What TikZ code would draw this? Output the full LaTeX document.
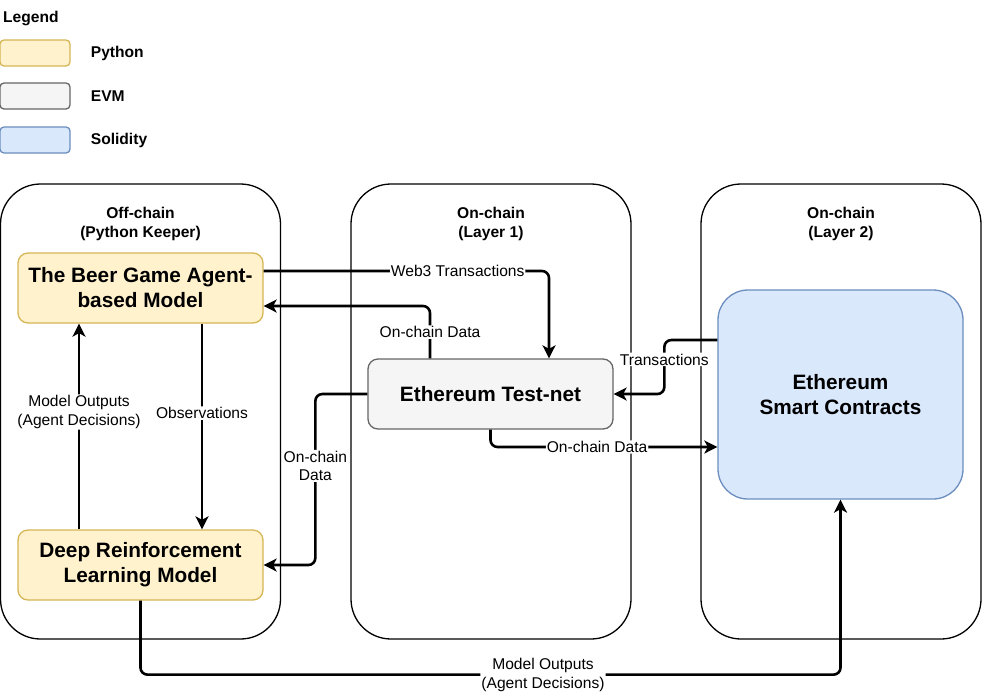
\documentclass[tikz,border=0pt]{standalone}
\usepackage{fontspec}
\setmainfont{Liberation Sans}
\usepackage{xcolor}
\usetikzlibrary{arrows.meta}
\usetikzlibrary{positioning}
\definecolor{pyfill}{HTML}{FFF2CC}
\definecolor{pyline}{HTML}{D6B656}
\definecolor{evmfill}{HTML}{F5F5F5}
\definecolor{evmline}{HTML}{666666}
\definecolor{solfill}{HTML}{DAE8FC}
\definecolor{solline}{HTML}{6C8EBF}

\begin{document}
\begin{tikzpicture}[x=1pt, y=-1pt,
  key/.style={draw, line width=1.3pt, rounded corners=4pt, minimum width=70pt, minimum height=26pt, inner sep=0pt},
  keylbl/.style={font=\fontsize{15.6}{18.7}\selectfont\bfseries, inner sep=0pt},
  container/.style={draw, line width=1.3pt, rounded corners=40pt, minimum width=280pt, minimum height=455pt},
  title/.style={font=\fontsize{15.6}{18.7}\selectfont\bfseries, align=center, inner sep=0pt},
  block/.style={draw, line width=1.3pt, rounded corners=10pt, minimum width=245pt, minimum height=70pt, align=center, font=\fontsize{20.8}{25}\selectfont\bfseries},
  conn/.style={line width=2.6pt, rounded corners=7pt, -{Stealth[length=13pt, width=13pt, inset=3.5pt]}},
  lbl/.style={fill=white, inner sep=1pt, align=center, font=\fontsize{15.6}{18.7}\selectfont}]
  \useasboundingbox (0,0) rectangle (982,694);
  \node[keylbl, anchor=base west] (legend) at (3,22) {Legend};
  \node[key, fill=pyfill, draw=pyline] (pykey) at (35,53) {};
  \node[key, fill=evmfill, draw=evmline] (evmkey) at (35,96) {};
  \node[key, fill=solfill, draw=solline] (solkey) at (35,140) {};
  \node[keylbl, right=20pt of pykey] {Python};
  \node[keylbl, right=20pt of evmkey] {EVM};
  \node[keylbl, right=20pt of solkey] {Solidity};

  \node[container] (offchain) at (140.5,411.5) {};
  \node[container] (layerone) at (491,411.5) {};
  \node[container] (layertwo) at (841,411.5) {};
  \node[title] at ([yshift=-40.5]offchain.north) {Off-chain\\(Python Keeper)};
  \node[title] at ([yshift=-40.5]layerone.north) {On-chain\\(Layer 1)};
  \node[title] at ([yshift=-40.5]layertwo.north) {On-chain\\(Layer 2)};

  \node[block, fill=pyfill, draw=pyline] (beer) at (140.5,288) {The Beer Game Agent-\\based Model};
  \node[block, fill=pyfill, draw=pyline] (drl) at (140.5,565) {Deep Reinforcement\\Learning Model};
  \node[block, fill=evmfill, draw=evmline] (testnet) at (490.5,394) {Ethereum Test-net};
  \node[block, fill=solfill, draw=solline, minimum height=209pt, rounded corners=30pt] (contracts) at (840.5,394.5) {Ethereum\\Smart Contracts};

  \draw[conn] ([yshift=17]beer.east) -| node[lbl, pos=0.34]{Web3 Transactions} ([xshift=58.5]testnet.north);
  \draw[conn] ([xshift=-60.5]testnet.north) |- node[lbl, pos=0.25]{On-chain Data} ([yshift=-18]beer.east);
  \draw[conn] ([xshift=61.5]beer.south) -- node[lbl, pos=0.435]{Observations} ([xshift=61.5]drl.north);
  \draw[conn] ([xshift=-61.5]drl.north) -- node[lbl, pos=0.57]{Model Outputs\\(Agent Decisions)} ([xshift=-61.5]beer.south);
  \draw[conn] (testnet.west) -- ++(-52,0) |- node[lbl, pos=0.21]{On-chain\\Data} (drl.east);
  \draw[conn] ([yshift=54.5]contracts.west) -- ++(-53,0) |- node[lbl, pos=0.18]{Transactions} (testnet.east);
  \draw[conn] (testnet.south) |- node[lbl, pos=0.735]{On-chain Data} ([yshift=-52.5]contracts.west);
  \draw[conn] (drl.south) -- ++(0,74) -| node[lbl, pos=0.2875]{Model Outputs\\(Agent Decisions)} (contracts.south);
\end{tikzpicture}
\end{document}
